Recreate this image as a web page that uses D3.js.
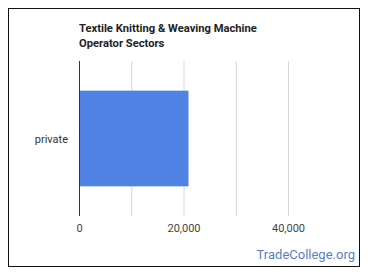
<!DOCTYPE html>
<html><head><meta charset="utf-8">
<script src="https://cdn.jsdelivr.net/npm/d3@7"></script>
<style>body{margin:0;background:#fff}svg{display:block}</style>
</head><body>
<script>
const categories = ["private"];
const values = [20860];
const tickValues = [0, 20000, 40000];
const gridValues = [0, 10000, 20000, 30000, 40000];
const titleLines = ["Textile Knitting & Weaving Machine", "Operator Sectors"];

const W = 370, H = 278;
const svg = d3.select("body").append("svg").attr("width", W).attr("height", H);

svg.append("rect").attr("x", 8.5).attr("y", 8.5).attr("width", 351).attr("height", 258)
  .attr("fill", "#fff").attr("stroke", "#111").attr("stroke-width", 1);

const x = d3.scaleLinear().domain([0, 40000]).range([79.5, 288.5]);
const y = d3.scaleBand().domain(categories).range([61, 216]).paddingInner(0).paddingOuter(0.31);

svg.append("g").selectAll("line").data(gridValues.slice(1)).join("line")
  .attr("x1", d => x(d)).attr("x2", d => x(d)).attr("y1", 61).attr("y2", 216)
  .attr("stroke", "#d8d8d8").attr("stroke-width", 1);

svg.append("g").selectAll("rect").data(values).join("rect")
  .attr("x", x(0)).attr("y", (d, i) => y(categories[i]))
  .attr("width", d => x(d) - x(0)).attr("height", y.bandwidth())
  .attr("fill", "#5083e3");

svg.append("line").attr("x1", x(0)).attr("x2", x(0)).attr("y1", 61).attr("y2", 216)
  .attr("stroke", "#333").attr("stroke-width", 1);

const font = "Roboto, Arial, sans-serif";
svg.append("g").selectAll("text").data(tickValues).join("text")
  .attr("x", d => x(d)).attr("y", 232).attr("text-anchor", "middle")
  .attr("font-family", font).attr("font-size", 11).attr("fill", "#444")
  .text(d => d3.format(",")(d));

svg.append("g").selectAll("text").data(categories).join("text")
  .attr("x", 68).attr("y", d => y(d) + y.bandwidth() / 2 + 4).attr("text-anchor", "end")
  .attr("font-family", font).attr("font-size", 11).attr("fill", "#333")
  .text(d => d);

svg.append("g").selectAll("text").data(titleLines).join("text")
  .attr("x", 79).attr("y", (d, i) => 32 + i * 14.5)
  .attr("font-family", font).attr("font-size", 11.2).attr("font-weight", "bold").attr("fill", "#222")
  .text(d => d);

svg.append("text").attr("x", 355).attr("y", 259).attr("text-anchor", "end")
  .attr("font-family", font).attr("font-size", 13).attr("fill", "#5b80bf")
  .text("TradeCollege.org");
</script>
</body></html>
